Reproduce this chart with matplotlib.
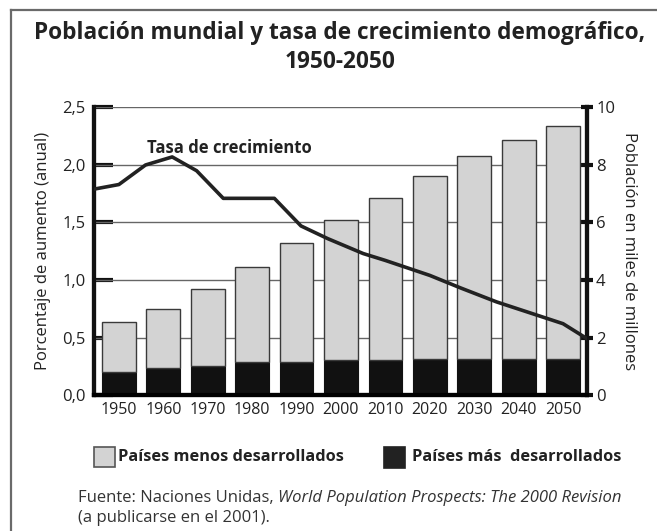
import matplotlib.pyplot as plt
from matplotlib.lines import Line2D
from matplotlib.patches import Rectangle

plt.rcParams['font.family'] = ['Open Sans', 'DejaVu Sans']

# datos
years = [1950, 1960, 1970, 1980, 1990, 2000, 2010, 2020, 2030, 2040, 2050]
mas_desarrollados = [0.79, 0.95, 1.01, 1.16, 1.16, 1.22, 1.22, 1.26, 1.26, 1.26, 1.26]
total = [2.55, 3.0, 3.69, 4.45, 5.27, 6.07, 6.85, 7.6, 8.3, 8.88, 9.35]
menos_desarrollados = [t - m for t, m in zip(total, mas_desarrollados)]

tasa_years = [1944.4, 1950, 1956, 1962, 1967.5, 1973.5, 1985, 1991, 1997, 2005, 2010, 2020, 2027, 2035, 2050, 2055.4]
tasa = [1.79, 1.83, 2.0, 2.07, 1.95, 1.71, 1.71, 1.47, 1.36, 1.23, 1.17, 1.04, 0.93, 0.81, 0.62, 0.49]

left_ticks = [0, 0.5, 1.0, 1.5, 2.0, 2.5]
left_labels = ['0,0', '0,5', '1,0', '1,5', '2,0', '2,5']
right_ticks = [0, 2, 4, 6, 8, 10]

fig = plt.figure(figsize=(6.57, 5.31), dpi=100)
ax = fig.add_axes([0.1431, 0.2561, 0.7504, 0.5415])
ax2 = ax.twinx()

# barras en el eje derecho
ax2.bar(years, mas_desarrollados, width=7.6, color='#111111', edgecolor='#111111', lw=0.8, zorder=2)
ax2.bar(years, menos_desarrollados, bottom=mas_desarrollados, width=7.6, color='#d3d3d3',
        edgecolor='#3a3a3a', lw=1.0, zorder=2)
ax2.set_ylim(0, 10)
ax2.set_yticks(right_ticks)
ax2.set_yticklabels([str(t) for t in right_ticks], fontsize=12, color='#222222')
ax2.tick_params(axis='y', direction='inout', length=9, width=3, pad=2, color='#111111')
ax2.set_ylabel('Población en miles de millones', rotation=270, fontsize=12, color='#222222', labelpad=16)

for h in left_ticks[1:]:
    ax2.axhline(h * 4, color='#666666', lw=1.0, zorder=1)

# línea de tasa, por encima de las barras
ax2.plot(tasa_years, [v * 4 for v in tasa], color='#222222', lw=2.6, zorder=4, solid_joinstyle='round')
ax2.text(1956.3, 2.15 * 4, 'Tasa de crecimiento', fontsize=12, fontweight='bold', va='center', color='#222222')

ax.set_xlim(1944.4, 2055.4)
ax.set_ylim(0, 2.5)
ax.set_yticks(left_ticks)
ax.set_yticklabels(left_labels, fontsize=12, color='#222222')
ax.set_xticks(years)
ax.set_xticklabels([str(y) for y in years], fontsize=11.5, color='#222222')
ax.tick_params(axis='x', length=0, pad=5)
ax.tick_params(axis='y', direction='in', length=14, width=3, pad=6, color='#111111')
ax.set_ylabel('Porcentaje de aumento (anual)', fontsize=12, color='#222222', labelpad=8)

for a in (ax, ax2):
    a.spines['top'].set_visible(False)
    a.spines['left'].set_linewidth(3)
    a.spines['right'].set_linewidth(3)
    a.spines['bottom'].set_linewidth(3)
    a.spines['left'].set_color('#111111')
    a.spines['right'].set_color('#111111')
ax2.set_zorder(ax.get_zorder() + 1)
ax.patch.set_visible(False)

fig.text(0.517, 1 - 39 / 531, 'Población mundial y tasa de crecimiento demográfico,', ha='center', va='baseline',
         fontsize=16.3, fontweight='bold', color='#222222')
fig.text(0.517, 1 - 68 / 531, '1950-2050', ha='center', va='baseline', fontsize=16.3, fontweight='bold',
         color='#222222')

# leyenda manual
fig.add_artist(Rectangle((94 / 657, 1 - 467 / 531), 21 / 657, 20 / 531, facecolor='#d3d3d3',
                         edgecolor='#555555', lw=1.2, transform=fig.transFigure))
fig.text(118 / 657, 1 - 457 / 531, 'Países menos desarrollados', fontsize=11.8, fontweight='bold',
         va='center', color='#222222')
fig.add_artist(Rectangle((384 / 657, 1 - 468 / 531), 21 / 657, 21 / 531, facecolor='#222222',
                         edgecolor='#222222', lw=1.2, transform=fig.transFigure))
fig.text(412 / 657, 1 - 457 / 531, 'Países más  desarrollados', fontsize=11.8, fontweight='bold',
         va='center', color='#222222')

# fuente
t1 = fig.text(78 / 657, 1 - 498 / 531, 'Fuente: Naciones Unidas, ', fontsize=12, va='center', color='#333333')
fig.canvas.draw()
bb = t1.get_window_extent()
fig.text(bb.x1 / fig.bbox.width, 1 - 498 / 531, 'World Population Prospects: The 2000 Revision',
         fontsize=12, style='italic', va='center', color='#333333')
fig.text(78 / 657, 1 - 518 / 531, '(a publicarse en el 2001).', fontsize=12, va='center', color='#333333')

# marco
fig.add_artist(Line2D([11 / 657, 11 / 657], [0, 1 - 10 / 531], color='#6a6a6a', lw=1.6, transform=fig.transFigure))
fig.add_artist(Line2D([11 / 657, 1], [1 - 10 / 531, 1 - 10 / 531], color='#6a6a6a', lw=1.6,
                      transform=fig.transFigure))

fig.savefig('out.png', dpi=100)
